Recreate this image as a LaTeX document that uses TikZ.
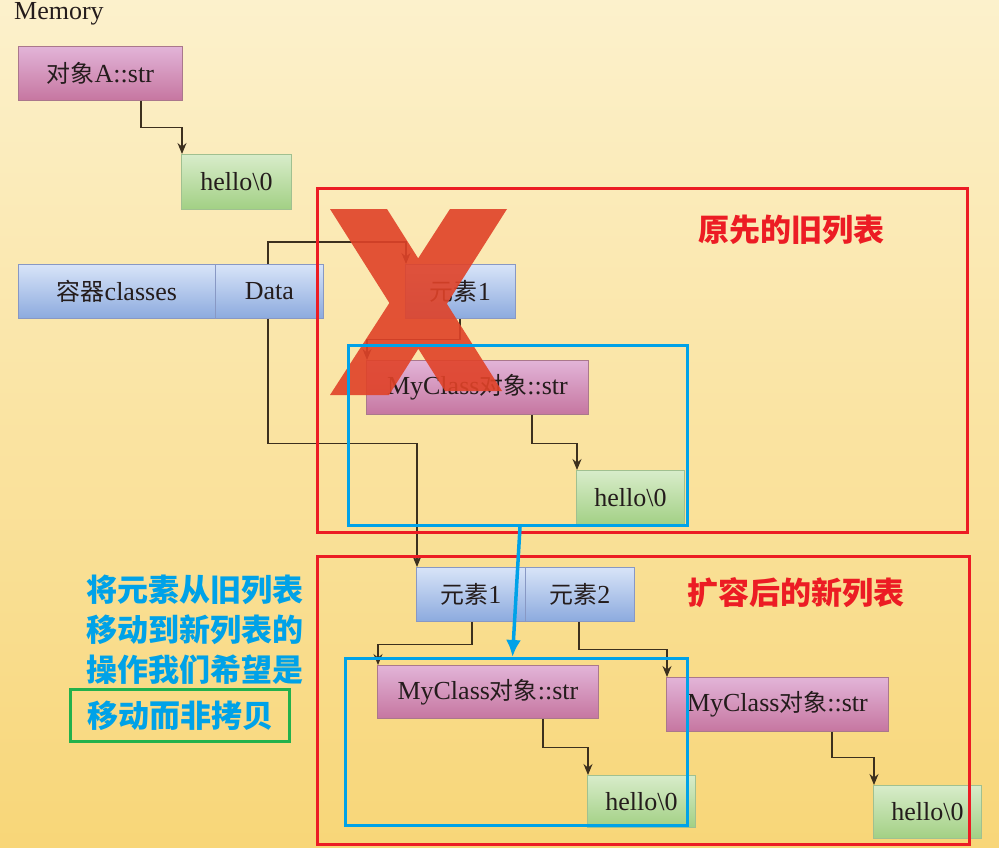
\documentclass[tikz,border=0pt]{standalone}
\usepackage{fontspec}
\setmainfont{Liberation Serif}
\newfontfamily\cjk[Scale=0.92]{Noto Sans CJK SC}
\newfontfamily\cjkb{Noto Sans CJK SC}
\usetikzlibrary{arrows.meta,calc}
\definecolor{bgtop}{RGB}{252,241,204}
\definecolor{bgbot}{RGB}{248,214,120}
\definecolor{pinktop}{RGB}{226,180,216}
\definecolor{pinkbot}{RGB}{198,118,160}
\definecolor{pinkline}{RGB}{170,120,140}
\definecolor{bluetop}{RGB}{216,228,248}
\definecolor{bluebot}{RGB}{140,170,222}
\definecolor{blueline}{RGB}{136,152,196}
\definecolor{greentop}{RGB}{216,236,202}
\definecolor{greenbot}{RGB}{162,208,132}
\definecolor{greenline}{RGB}{160,192,144}
\definecolor{boxtext}{RGB}{36,28,28}
\definecolor{connc}{RGB}{60,48,30}
\definecolor{framered}{RGB}{236,28,36}
\definecolor{frameblue}{RGB}{0,162,232}
\definecolor{framegreen}{RGB}{34,177,76}
\definecolor{xred}{RGB}{224,66,40}
\tikzset{
  box/.style={line width=0.8pt, inner sep=0pt, anchor=north west, text=boxtext,
    font=\fontsize{26}{28}\selectfont},
  pinkbox/.style={box, draw=pinkline, top color=pinktop, bottom color=pinkbot},
  bluebox/.style={box, draw=blueline, top color=bluetop, bottom color=bluebot},
  greenbox/.style={box, draw=greenline, top color=greentop, bottom color=greenbot},
  conn/.style={draw=connc, line width=1.2pt, -{Stealth[length=11pt,width=9pt]}},
  redframe/.style={draw=framered, line width=3pt, anchor=north west, inner sep=0pt},
  blueframe/.style={draw=frameblue, line width=3pt, anchor=north west, inner sep=0pt},
  redlabel/.style={text=framered, font=\cjkb\bfseries\fontsize{31}{36}\selectfont, inner sep=0pt},
  bluelabel/.style={text=frameblue, font=\cjkb\bfseries\fontsize{31}{40}\selectfont, inner sep=0pt, align=left},
}
\begin{document}
\begin{tikzpicture}[x=1pt,y=-1pt]
\useasboundingbox (0,0) rectangle (999,848);
\shade[top color=bgtop, bottom color=bgbot] (0,0) rectangle (999,848);

\node[anchor=west, inner sep=0pt, text=boxtext, font=\fontsize{26}{28}\selectfont] (mem) at (14,14) {Memory};

% top object
\node[pinkbox, minimum width=164pt, minimum height=54pt] (objA) at (18,46) {{\cjk 对象}A::str};
\node[greenbox, minimum width=110pt, minimum height=55pt] (hA) at (181,154) {hello\textbackslash 0};

% container
\node[bluebox, minimum width=197pt, minimum height=54pt] (cls) at (18,264) {{\cjk 容器}classes};
\node[bluebox, minimum width=108pt, minimum height=54pt] (data) at (215,264) {Data};

% old list
\node[bluebox, minimum width=110pt, minimum height=54pt] (e1old) at (405,264) {{\cjk 元素}1};
\node[pinkbox, minimum width=222pt, minimum height=54pt] (mcold) at (366,360) {MyClass{\cjk 对象}::str};
\node[greenbox, minimum width=108pt, minimum height=55pt] (hold) at (576,470) {hello\textbackslash 0};

% new list
\node[bluebox, minimum width=109pt, minimum height=54pt] (e1new) at (416,567) {{\cjk 元素}1};
\node[bluebox, minimum width=109pt, minimum height=54pt] (e2new) at (525,567) {{\cjk 元素}2};
\node[pinkbox, minimum width=221pt, minimum height=53pt] (mc1) at (377,665) {MyClass{\cjk 对象}::str};
\node[pinkbox, minimum width=222pt, minimum height=54pt] (mc2) at (666,677) {MyClass{\cjk 对象}::str};
\node[greenbox, minimum width=108pt, minimum height=52pt] (h1) at (587,775) {hello\textbackslash 0};
\node[greenbox, minimum width=108pt, minimum height=53pt] (h2) at (873,785) {hello\textbackslash 0};

% connectors
\draw[conn] ([xshift=123pt]objA.south west) -- ++(0,27) -| ([xshift=1pt]hA.north west);
\draw[conn] ([xshift=53pt]data.north west) -- ++(0,-22) -| ([xshift=1pt]e1old.north west);
\draw[conn] ([xshift=53pt]data.south west) -- ++(0,125) -| ([xshift=1pt]e1new.north west);
\draw[conn] ([xshift=55pt]e1old.south west) -- ++(0,21) -| ([xshift=1pt]mcold.north west);
\draw[conn] ([xshift=166pt]mcold.south west) -- ++(0,29) -| ([xshift=1pt]hold.north west);
\draw[conn] ([xshift=56pt]e1new.south west) -- ++(0,23) -| ([xshift=1pt]mc1.north west);
\draw[conn] ([xshift=54pt]e2new.south west) -- ++(0,28) -| ([xshift=1pt]mc2.north west);
\draw[conn] ([xshift=166pt]mc1.south west) -- ++(0,29) -| ([xshift=1pt]h1.north west);
\draw[conn] ([xshift=166pt]mc2.south west) -- ++(0,26) -| ([xshift=1pt]h2.north west);

% red X (one path, nonzero rule: uniform colour where the arms cross)
\fill[xred, fill opacity=0.9]
  (330,209) -- (387,209) -- (502,391) -- (445,391) -- cycle
  (450,209) -- (507,209) -- (389,395) -- (330,395) -- cycle;

% frames
\node[redframe, minimum width=650pt, minimum height=344pt] (oldlist) at (316,187) {};
\node[redframe, minimum width=652pt, minimum height=288pt] (newlist) at (316,555) {};
\node[blueframe, minimum width=339pt, minimum height=180pt] (oldel) at (347,344) {};
\node[blueframe, minimum width=342pt, minimum height=167pt] (newel) at (344,657) {};

\node[redlabel] (oldlbl) at (791,230) {原先的旧列表};
\node[redlabel] (newlbl) at (796,593) {扩容后的新列表};

\draw[frameblue, line width=3.5pt, -{Latex[length=17pt,width=15pt]}] ([xshift=2pt]oldel.south) -- ([xshift=-4pt]newel.north);

\node[bluelabel, anchor=north west] (note) at (86,575) {将元素从旧列表\\移动到新列表的\\操作我们希望是};
\node[draw=framegreen, line width=3pt, anchor=north west, minimum width=219pt, minimum height=52pt, inner sep=0pt,
      text=frameblue, font=\cjkb\bfseries\fontsize{31}{36}\selectfont] (move) at (69,688) {移动而非拷贝};
\end{tikzpicture}
\end{document}
